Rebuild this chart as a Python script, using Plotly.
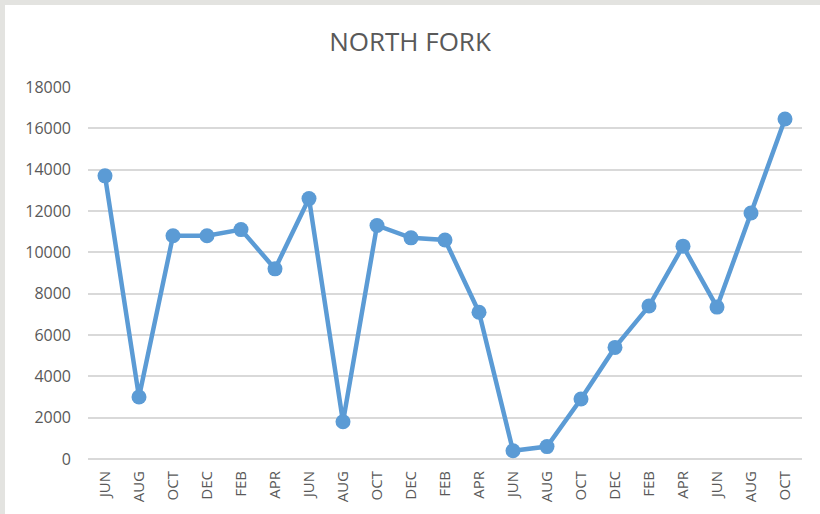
import plotly.graph_objects as go

months = ["JUN", "AUG", "OCT", "DEC", "FEB", "APR", "JUN", "AUG", "OCT", "DEC", "FEB",
          "APR", "JUN", "AUG", "OCT", "DEC", "FEB", "APR", "JUN", "AUG", "OCT"]
values = [13700, 3000, 10800, 10800, 11100, 9200, 12600, 1800, 11300, 10700, 10600,
          7100, 400, 600, 2900, 5400, 7400, 10300, 7350, 11900, 16450]
y_ticks = [0, 2000, 4000, 6000, 8000, 10000, 12000, 14000, 16000, 18000]

idx = list(range(len(months)))

W, H = 820, 514
L, R, T, B = 88, 18, 87, 55
PW, PH = W - L - R, H - T - B

def px_x(x):
    return (x - L) / PW

def px_y(y):
    return (H - B - y) / PH

fig = go.Figure()
fig.add_trace(go.Scatter(
    x=idx, y=values, mode="lines+markers",
    line=dict(color="#5B9BD5", width=4.5),
    marker=dict(color="#5B9BD5", size=15),
    showlegend=False, hoverinfo="x+y",
))

font_family = "Open Sans, Noto Sans, sans-serif"
fig.update_layout(
    width=W, height=H,
    margin=dict(l=L, r=R, t=T, b=B),
    paper_bgcolor="white", plot_bgcolor="white",
    title=dict(text="NORTH FORK", x=0.5, xanchor="center",
               y=1 - 42 / H, yanchor="middle",
               font=dict(family=font_family, size=26, color="#595959")),
    xaxis=dict(
        tickmode="array", tickvals=idx, ticktext=months,
        range=[-0.5, len(months) - 0.5],
        tickangle=-90, showgrid=False, zeroline=False, showline=False,
        ticks="", ticklabelstandoff=8,
        tickfont=dict(family=font_family, size=15, color="#595959"),
    ),
    yaxis=dict(
        range=[0, 18000], tickmode="array", tickvals=y_ticks,
        ticktext=[str(v) for v in y_ticks],
        showgrid=True, gridcolor="#D9D9D9", gridwidth=1.5,
        zeroline=True, zerolinecolor="#D9D9D9", zerolinewidth=1.5,
        showline=False, ticks="", ticklabelstandoff=16,
        tickfont=dict(family=font_family, size=16, color="#595959"),
    ),
    shapes=[
        dict(type="rect", xref="paper", yref="paper",
             x0=px_x(0), x1=px_x(W), y0=px_y(5), y1=px_y(0),
             line=dict(width=0), fillcolor="#E3E3E0"),
        dict(type="rect", xref="paper", yref="paper",
             x0=px_x(0), x1=px_x(5), y0=px_y(H), y1=px_y(0),
             line=dict(width=0), fillcolor="#E3E3E0"),
    ],
)

fig.write_html("out.html", config={"displayModeBar": False},
               post_script="document.body.style.margin='0';document.body.style.padding='0';")
